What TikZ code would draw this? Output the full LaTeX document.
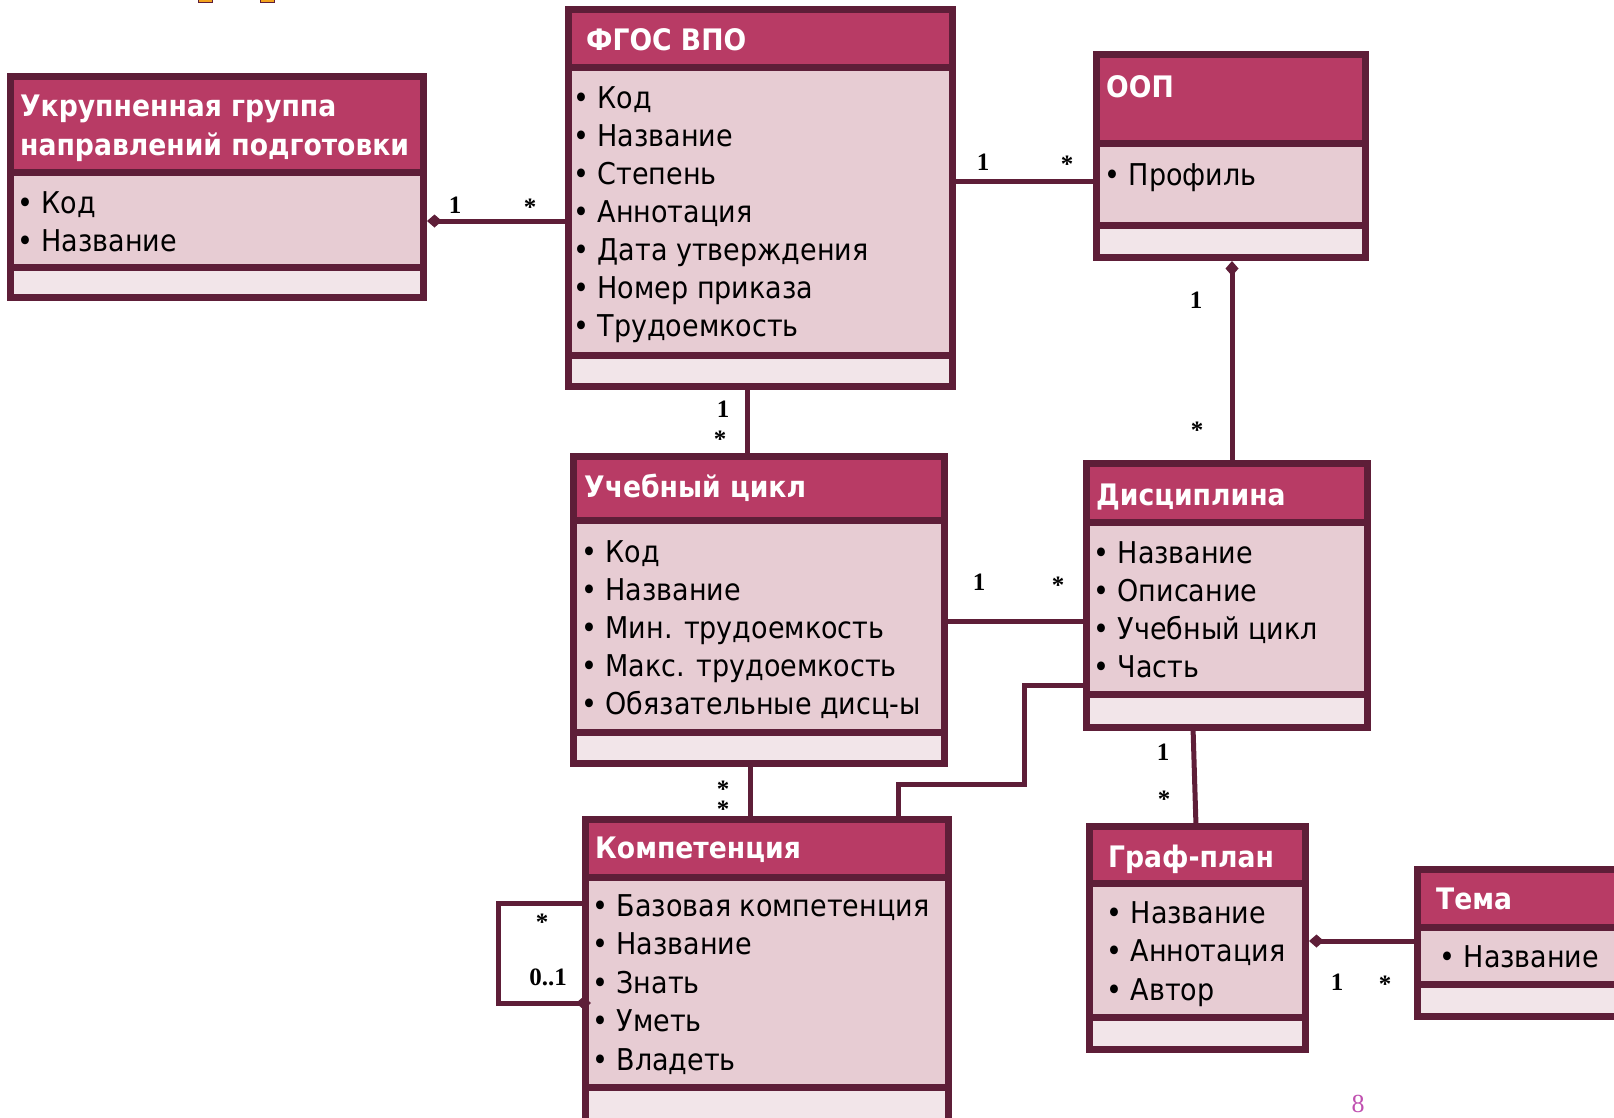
\documentclass[tikz,border=0pt]{standalone}
\usepackage{fontspec}
\setmainfont{DejaVu Sans Condensed}
\newfontfamily\multfont{Liberation Serif}
\usetikzlibrary{arrows.meta}
\definecolor{umlframe}{HTML}{5E1E38}
\definecolor{umlhead}{HTML}{B83B65}
\definecolor{umlbody}{HTML}{E7CCD3}
\definecolor{umlfoot}{HTML}{F2E5E9}
\definecolor{pagenum}{HTML}{C050B0}
\definecolor{handle}{HTML}{F2A31E}
\tikzset{
  partbox/.style={draw=umlframe, line width=7pt, inner sep=0pt, outer sep=0pt, anchor=north west},
  hdrbox/.style={partbox, fill=umlhead},
  bodybox/.style={partbox, fill=umlbody},
  footbox/.style={partbox, fill=umlfoot},
  hdrtext/.style={anchor=base west, inner sep=0pt, text=white, font=\fontsize{29.6}{38}\selectfont\bfseries},
  attrtext/.style={anchor=base west, inner sep=0pt, font=\fontsize{30}{38}\selectfont},
  assoc/.style={draw=umlframe, line width=5pt},
  owner/.style={assoc, {Diamond[length=15pt,width=13pt]}-},
  mult/.style={inner sep=0pt, font=\multfont\bfseries\fontsize{25}{20}\selectfont}
}
\begin{document}
\begin{tikzpicture}[x=1pt,y=-1pt]
\useasboundingbox (0,0) rectangle (1614,1117);
\clip (0,0) rectangle (1614,1117);

% handles at the top edge
\foreach \x in {198,260}
  \draw[umlframe, fill=handle, line width=1pt] (\x,-4) rectangle ++(14,6);

% class frames: name / left / right / top / header / body / bottom
\foreach \n/\xa/\xb/\ya/\yb/\yc/\yd in {ugn/10/423/76/172/267/297, fgos/568/952/9/67/355/386,
    oop/1096/1365/54/143/225/257, cyc/573/944/456/520/732/763, disc/1086/1367/463/522/694/727,
    komp/585/948/819/877/1087/1140, graf/1089/1305/826/883/1017/1049, tema/1417/1650/869/927/984/1016}
{
  \node[hdrbox, minimum width={(\xb-\xa)*1pt}, minimum height={(\yb-\ya)*1pt}] (\n-head) at (\xa,\ya) {};
  \node[bodybox, minimum width={(\xb-\xa)*1pt}, minimum height={(\yc-\yb)*1pt}] (\n-body) at (\xa,\yb) {};
  \node[footbox, minimum width={(\xb-\xa)*1pt}, minimum height={(\yd-\yc)*1pt}] (\n-foot) at (\xa,\yc) {};
}

% class names
\node[hdrtext] (ugn-t1) at (20,116) {Укрупненная группа};
\node[hdrtext] (ugn-t2) at (20,155) {направлений подготовки};
\node[hdrtext] (fgos-t) at (586,50) {ФГОС ВПО};
\node[hdrtext] (oop-t) at (1106,97) {ООП};
\node[hdrtext] (cyc-t) at (584,497) {Учебный цикл};
\node[hdrtext] (disc-t) at (1096,505) {Дисциплина};
\node[hdrtext] (komp-t) at (595,858) {Компетенция};
\node[hdrtext] (graf-t) at (1108,867) {Граф-план};
\node[hdrtext] (tema-t) at (1436,909) {Тема};

% attributes
\foreach [count=\i] \t in {Код, Название}
  \node[attrtext] (ugn-a\i) at (17,{213+38*(\i-1)}) {•\ \t};
\foreach [count=\i] \t in {Код, Название, Степень, Аннотация, Дата утверждения, Номер приказа, Трудоемкость}
  \node[attrtext] (fgos-a\i) at (573,{108+38*(\i-1)}) {•\ \t};
\node[attrtext] (oop-a1) at (1104,185) {•\ Профиль};
\foreach [count=\i] \t in {Код, Название, Мин. трудоемкость, Макс. трудоемкость, Обязательные дисц-ы}
  \node[attrtext] (cyc-a\i) at (581,{562+38*(\i-1)}) {•\ \t};
\foreach [count=\i] \t in {Название, Описание, Учебный цикл, Часть}
  \node[attrtext] (disc-a\i) at (1093,{563+38.3*(\i-1)}) {•\ \t};
\foreach [count=\i] \t in {Базовая компетенция, Название, Знать, Уметь, Владеть}
  \node[attrtext] (komp-a\i) at (592,{916+38.5*(\i-1)}) {•\ \t};
\foreach [count=\i] \t in {Название, Аннотация, Автор}
  \node[attrtext] (graf-a\i) at (1106,{923+38.5*(\i-1)}) {•\ \t};
\node[attrtext] (tema-a1) at (1439,967) {•\ Название};

% associations
\draw[owner] ([xshift=4pt]ugn-body.east |- 0,221) -- (fgos-body.west |- 0,221);
\draw[assoc] (fgos-body.east |- 0,181) -- (oop-body.west |- 0,181);
\draw[owner] ([yshift=-4pt]oop-foot.south -| 1232,0) -- (1232,0 |- disc-head.north);
\draw[assoc] (747,0 |- fgos-foot.south) -- (747,0 |- cyc-head.north);
\draw[assoc] (cyc-body.east |- 0,621) -- (disc-body.west |- 0,621);
\draw[assoc] (750,0 |- cyc-foot.south) -- (750,0 |- komp-head.north);
\draw[assoc] (disc-body.west |- 0,685) -| (1024,784) -| (898,0 |- komp-head.north);
\draw[assoc] (1193,0 |- disc-foot.south) -- (1196,0 |- graf-head.north);
\draw[owner] ([xshift=4pt]graf-body.east |- 0,941) -- (tema-body.west |- 0,941);
\draw[owner] ([xshift=6pt]komp-body.west |- 0,1003) -| (498,903) -- (komp-body.west |- 0,903);

% multiplicities
\node[mult] (m-ugn) at (455,205) {1};
\node[mult] (m-fgos1) at (530,207) {*};
\node[mult] (m-fgos2) at (983,162) {1};
\node[mult] (m-oop1) at (1067,164) {*};
\node[mult] (m-oop2) at (1196,300) {1};
\node[mult] (m-disc1) at (1197,430) {*};
\node[mult] (m-fgos3) at (723,409) {1};
\node[mult] (m-cyc1) at (720,439) {*};
\node[mult] (m-cyc2) at (979,582) {1};
\node[mult] (m-disc2) at (1058,585) {*};
\node[mult, align=center] (m-cyc3) at (723,799) {*\\*};
\node[mult] (m-disc3) at (1163,752) {1};
\node[mult] (m-graf1) at (1164,799) {*};
\node[mult] (m-graf2) at (1337,982) {1};
\node[mult] (m-tema) at (1385,984) {*};
\node[mult] (m-komp2) at (542,922) {*};
\node[mult] (m-komp3) at (548,977) {0..1};

% page number
\node[mult, font=\multfont\fontsize{26}{26}\selectfont, text=pagenum] (page) at (1358,1104) {8};
\end{tikzpicture}
\end{document}
